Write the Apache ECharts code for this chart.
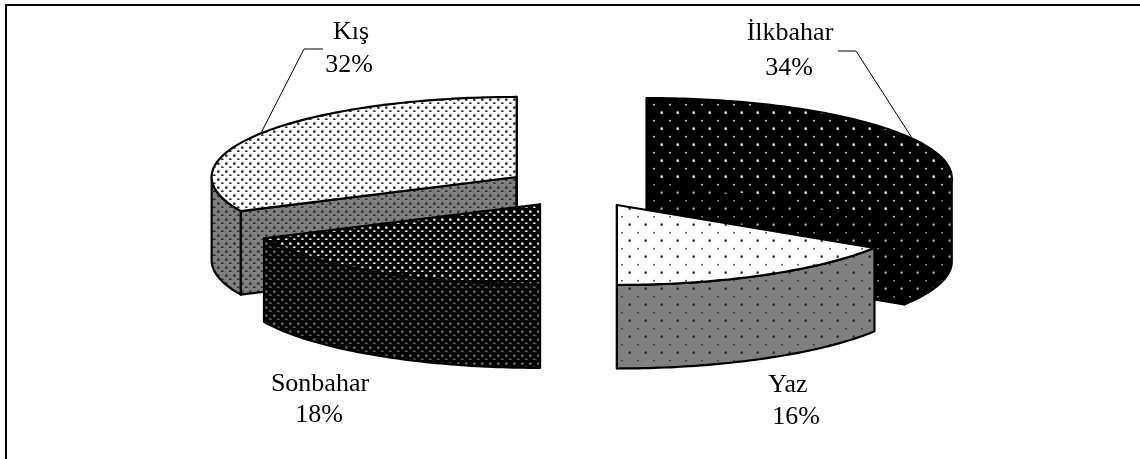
<!DOCTYPE html>
<html>
<head>
<meta charset="utf-8">
<style>html,body{margin:0;padding:0;background:#fff}#c{width:1140px;height:459px}</style>
<script src="https://cdn.jsdelivr.net/npm/echarts@6/dist/echarts.min.js"></script>
</head>
<body>
<div id="c"></div>
<script>
const categories = ['İlkbahar', 'Yaz', 'Sonbahar', 'Kış'];
const values = [34, 16, 18, 32];

// 3-D pie projection
const CX = 580.5, CY = 187.6, RX = 305, RY = 80, DEPTH = 83.5, EXPLODE = 75.6;
const FONT = '26px "Liberation Serif", "Times New Roman", serif';
const labelNamePos = [[790, 33], [788, 385], [320, 384], [351, 32]];
const labelPctPos = [[789, 68], [796, 417], [319, 415], [349, 65]];
const leaders = [
  [[838, 51], [856, 51], [912, 138]],
  null,
  null,
  [[323, 49], [304, 49], [260, 135]]
];
const sliceZ = [1, 2, 2, 1];

function dotPattern(size, bg, dots) {
  const cv = document.createElement('canvas');
  cv.width = cv.height = size;
  const g = cv.getContext('2d');
  g.fillStyle = bg;
  g.fillRect(0, 0, size, size);
  dots.forEach(function (d) {
    g.fillStyle = d[3];
    g.beginPath();
    g.arc(d[0], d[1], d[2], 0, Math.PI * 2);
    g.fill();
  });
  return { image: cv, repeat: 'repeat' };
}
const dense = (bg, c) => dotPattern(8, bg, [[2.3, 3.7, 1.4, c], [6.3, 7.7, 1.4, c]]);
const sparse = (bg, c) => dotPattern(16, bg, [[5.7, 0.7, 1.35, c], [5.7, 16.7, 1.35, c], [14, 8.7, 0.9, c]]);

const topFill = [sparse('#000', '#fff'), sparse('#fff', '#444'), dense('#000', '#ddd'), dense('#fff', '#333')];
const sideFill = [sparse('#000', '#999'), sparse('#808080', '#333'), dense('#000', '#666'), dense('#808080', '#333')];

const total = values.reduce((a, b) => a + b, 0);
const rad = d => d * Math.PI / 180;

function renderItem(params, api) {
  const i = params.dataIndex;
  let before = 0;
  for (let k = 0; k < i; k++) before += values[k];
  const v = api.value(0);
  const a0 = before / total * 360, a1 = (before + v) / total * 360, mid = (a0 + a1) / 2;
  const ax = CX + EXPLODE * Math.sin(rad(mid));
  const ay = CY - EXPLODE * (RY / RX) * Math.cos(rad(mid));
  const pt = (a, dz) => [ax + RX * Math.sin(rad(a)), ay - RY * Math.cos(rad(a)) + (dz || 0)];
  const arc = (s, e, dz) => {
    const out = [], n = Math.max(2, Math.ceil(Math.abs(e - s)));
    for (let t = 0; t <= n; t++) out.push(pt(s + (e - s) * t / n, dz));
    return out;
  };
  const z = sliceZ[i] * 10;
  const lw = 2.2;
  const children = [];
  const poly = (points, fill, zo) => children.push({
    type: 'polygon', z2: z + zo, shape: { points: points },
    style: { fill: fill, stroke: '#000', lineWidth: lw, lineJoin: 'round' }
  });
  const apex = [ax, ay], apexB = [ax, ay + DEPTH];
  [a0, a1].forEach(function (a, idx) {
    // radial wall, drawn only when facing the viewer
    const c = pt(a), cb = pt(a, DEPTH);
    const facing = idx === 0 ? (a > 180 && a < 360) : (a > 0 && a < 180);
    if (facing || a === 0 || a === 360 || a === 180) {
      poly([apex, c, cb, apexB], sideFill[i], 0);
    }
  });
  const s = Math.max(a0, 90), e = Math.min(a1, 270);
  if (e > s) {
    poly(arc(s, e, 0).concat(arc(e, s, DEPTH)), sideFill[i], 1);
  }
  poly([apex].concat(arc(a0, a1, 0)), topFill[i], 2);

  const name = categories[i];
  const pct = Math.round(v / total * 100) + '%';
  [[name, labelNamePos[i]], [pct, labelPctPos[i]]].forEach(function (t) {
    children.push({
      type: 'text', z2: 100,
      style: { text: t[0], x: t[1][0], y: t[1][1], font: FONT, fill: '#000', align: 'center', verticalAlign: 'middle' }
    });
  });
  if (leaders[i]) {
    children.push({
      type: 'polyline', z2: 0, shape: { points: leaders[i] },
      style: { fill: 'none', stroke: '#000', lineWidth: 1 }
    });
  }
  return { type: 'group', children: children };
}

const chart = echarts.init(document.getElementById('c'), null, { renderer: 'canvas' });
chart.setOption({
  animation: false,
  backgroundColor: '#fff',
  graphic: [
    { type: 'line', silent: true, shape: { x1: 5, y1: 5, x2: 1140, y2: 5 }, style: { stroke: '#000', lineWidth: 2 } },
    { type: 'line', silent: true, shape: { x1: 6, y1: 4, x2: 6, y2: 459 }, style: { stroke: '#000', lineWidth: 2 } }
  ],
  series: [{
    type: 'custom',
    coordinateSystem: 'none',
    silent: true,
    renderItem: renderItem,
    data: categories.map((c, i) => ({ name: c, value: [values[i]] }))
  }]
});
</script>
</body>
</html>
